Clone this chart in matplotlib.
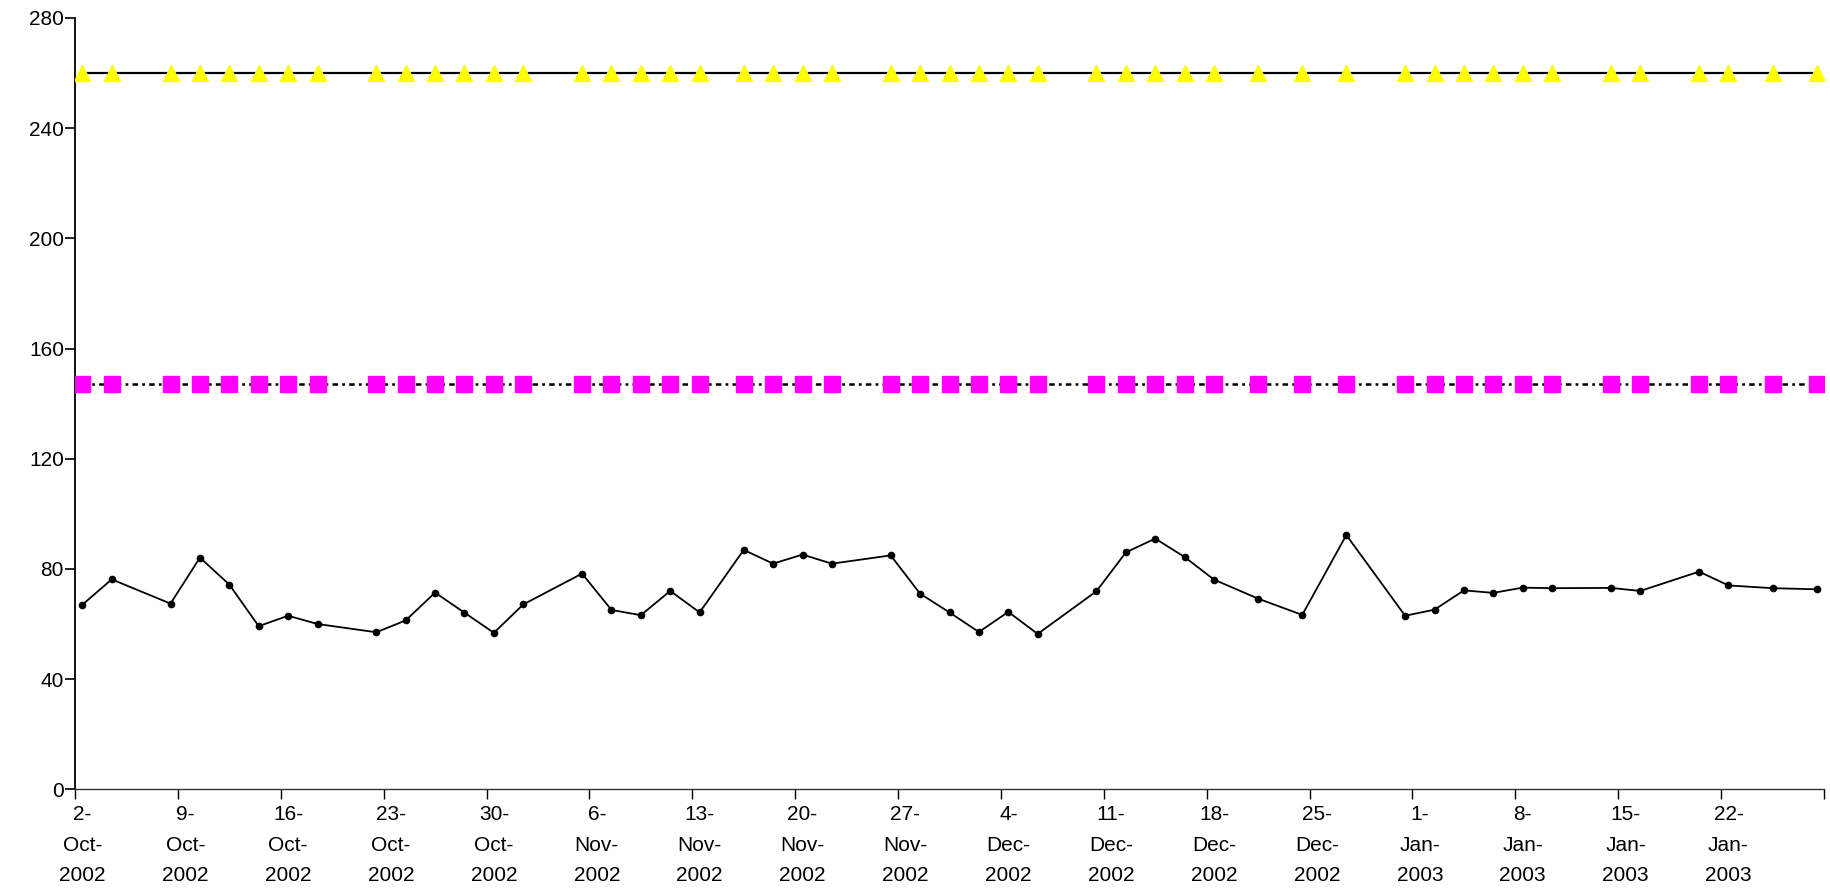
import matplotlib
matplotlib.use("Agg")
import matplotlib.pyplot as plt
import matplotlib.dates as mdates
import numpy as np

dates = ['2002-10-02', '2002-10-04', '2002-10-08', '2002-10-10', '2002-10-12', '2002-10-14', '2002-10-16', '2002-10-18',
         '2002-10-22', '2002-10-24', '2002-10-26', '2002-10-28', '2002-10-30', '2002-11-01', '2002-11-05', '2002-11-07',
         '2002-11-09', '2002-11-11', '2002-11-13', '2002-11-16', '2002-11-18', '2002-11-20', '2002-11-22', '2002-11-26',
         '2002-11-28', '2002-11-30', '2002-12-02', '2002-12-04', '2002-12-06', '2002-12-10', '2002-12-12', '2002-12-14',
         '2002-12-16', '2002-12-18', '2002-12-21', '2002-12-24', '2002-12-27', '2002-12-31', '2003-01-02', '2003-01-04',
         '2003-01-06', '2003-01-08', '2003-01-10', '2003-01-14', '2003-01-16', '2003-01-20', '2003-01-22', '2003-01-25',
         '2003-01-28']

values = [67.0, 76.2, 67.4, 84.1, 74.3, 59.2, 63.0, 60.0,
          57.0, 61.3, 71.4, 64.1, 56.8, 67.1, 78.3, 65.1, 63.2,
          72.0, 64.2, 86.9, 81.9, 85.2, 81.9, 84.9, 71.0,
          64.2, 57.1, 64.4, 56.4, 71.9, 86.0, 91.0, 84.3, 76.1,
          69.2, 63.3, 92.3, 63.0, 65.2, 72.2, 71.3,
          73.2, 73.0, 73.1, 72.0, 79.0, 74.0, 73.0, 72.6]

upper_level = 260
lower_level = 147

axis_start = '2002-10-02'
axis_end = '2003-01-29'
y_ticks = [0, 40, 80, 120, 160, 200, 240, 280]

plt.rcParams['font.family'] = ['Liberation Sans', 'DejaVu Sans']
plt.rcParams['lines.scale_dashes'] = False

fig = plt.figure(figsize=(18.31, 8.89), dpi=100)
ax = fig.add_axes([75 / 1831, 1 - 789.3 / 889, (1824 - 75) / 1831, (789.3 - 17.9) / 889])

x = mdates.date2num(np.array(dates, dtype='datetime64[D]')) + 0.5  # points sit mid-day
x0 = mdates.date2num(np.datetime64(axis_start))
x1 = mdates.date2num(np.datetime64(axis_end))

ax.plot(x, [upper_level] * len(x), color='black', lw=1.6, marker='^', ms=11.5,
        mfc='#FFFF00', mec='#FFFF00', zorder=3)
ax.plot(x, [lower_level] * len(x), color='black', lw=1.8, linestyle=(0, (4, 3, 2, 3)),
        marker='s', ms=11, mfc='#FF00FF', mec='#FF00FF', zorder=3)
ax.plot(x, values, color='black', lw=1.3, marker='o', ms=4.5, zorder=3)

ax.set_xlim(x0, x1)
ax.set_ylim(0, 280)
ax.set_yticks(y_ticks)
ax.set_yticklabels([str(v) for v in y_ticks])

week_ticks = np.arange(x0, x1 + 0.1, 7)
ax.set_xticks(week_ticks)
ax.set_xticklabels([])
label_pos = week_ticks[:-1] + 0.5
ax.set_xticks(label_pos, minor=True)
labels = []
for t in label_pos:
    d = mdates.num2date(t)
    labels.append(f"{d.day}-\n{d.strftime('%b')}-\n{d.year}")
ax.set_xticklabels(labels, minor=True, linespacing=1.76)

ax.tick_params(axis='x', which='major', length=7, width=1, direction='out')
ax.tick_params(axis='x', which='minor', length=0, pad=11.5, labelsize=15)
ax.tick_params(axis='y', length=7, width=1.2, direction='out', pad=1, labelsize=15)

for s in ['top', 'right']:
    ax.spines[s].set_visible(False)
ax.spines['left'].set_linewidth(1.3)
ax.spines['bottom'].set_linewidth(1.0)
ax.spines['bottom'].set_color('#333333')

fig.savefig('out.png', dpi=100)
